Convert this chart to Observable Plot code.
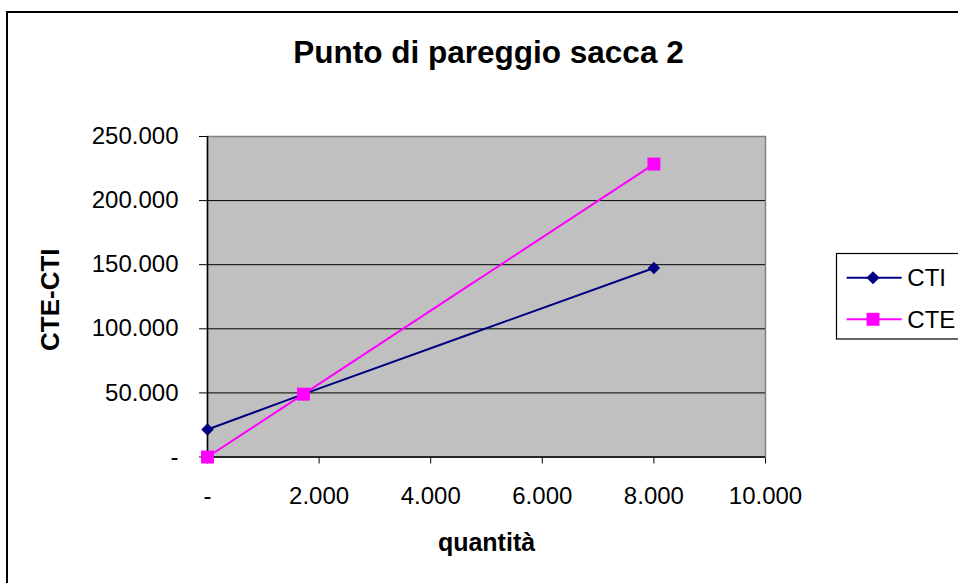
<!DOCTYPE html>
<html>
<head>
<meta charset="utf-8">
<script src="https://cdn.jsdelivr.net/npm/d3@7"></script>
<script src="https://cdn.jsdelivr.net/npm/@observablehq/plot@0.6"></script>
<style>
  html, body { margin: 0; padding: 0; background: #fff; overflow: hidden; }
  body { width: 958px; height: 583px; position: relative; font-family: "Liberation Sans", Arial, sans-serif; }
  #frame { position: absolute; left: 6px; top: 11px; width: 1000px; height: 700px; border: 2px solid #000; box-sizing: border-box; }
  #title { position: absolute; left: 488.5px; top: 36px; transform: translateX(-50%); font-size: 31.5px; line-height: 32px; font-weight: bold; white-space: nowrap; color: #000; }
  #chart { position: absolute; left: 0; top: 0; }
  #legend { position: absolute; left: 0; top: 0; pointer-events: none; }
</style>
</head>
<body>
<div id="frame"></div>
<div id="chart"></div>
<div id="title">Punto di pareggio sacca 2</div>
<svg id="legend" width="958" height="583"></svg>
<script>
// ---- data ----
const titleText = "Punto di pareggio sacca 2";
const xLabel = "quantità";
const yLabel = "CTE-CTI";
const seriesNames = ["CTI", "CTE"];
const seriesColors = ["#000080", "#FF00FF"];
const quantita = [0, 1720, 8000];
const cti = [21500, 49000, 147400];
const cte = [0, 49000, 228500];
const xTicks = [0, 2000, 4000, 6000, 8000, 10000];
const yTicks = [0, 50000, 100000, 150000, 200000, 250000];

const it = d3.formatLocale({decimal: ",", thousands: ".", grouping: [3], currency: ["", "€"]});
const fmtNum = it.format(",");
const fmt = d => d === 0 ? "-" : fmtNum(d);

const ctiData = quantita.map((q, i) => ({q, v: cti[i]}));
const cteData = quantita.map((q, i) => ({q, v: cte[i]}));

const chart = Plot.plot({
  width: 958,
  height: 583,
  marginLeft: 207,
  marginRight: 193,
  marginTop: 136,
  marginBottom: 126.5,
  style: {fontFamily: "'Liberation Sans', Arial, sans-serif", fontSize: "24px", color: "#000", background: "transparent", overflow: "visible"},
  x: {domain: [0, 10000], ticks: xTicks, tickFormat: fmt, tickSize: 7, tickPadding: 23, label: null},
  y: {domain: [0, 250000], ticks: yTicks, tickFormat: fmt, tickSize: 8, tickPadding: 21, label: null},
  marks: [
    Plot.frame({fill: "#C0C0C0", stroke: "#808080", strokeWidth: 1.5}),
    Plot.ruleY(yTicks.filter(d => d > 0 && d < 250000), {stroke: "#000", strokeWidth: 1}),
    Plot.ruleX([0], {stroke: "#000", strokeWidth: 1.5}),
    Plot.ruleY([0], {stroke: "#000", strokeWidth: 1.5}),
    Plot.line(ctiData, {x: "q", y: "v", stroke: seriesColors[0], strokeWidth: 2, curve: "catmull-rom"}),
    Plot.dot(ctiData, {x: "q", y: "v", symbol: "diamond2", r: 5.6, fill: seriesColors[0], stroke: "none"}),
    Plot.line(cteData, {x: "q", y: "v", stroke: seriesColors[1], strokeWidth: 2, curve: "catmull-rom"}),
    Plot.dot(cteData, {x: "q", y: "v", symbol: "square", r: 7.3, fill: seriesColors[1], stroke: "none"}),
    Plot.text([yLabel], {text: d => d, frameAnchor: "left", dx: -157, dy: 3, rotate: -90, textAnchor: "middle", lineAnchor: "middle", fontWeight: "bold", fontSize: 26}),
    Plot.text([xLabel], {text: d => d, frameAnchor: "bottom", dy: 85.5, textAnchor: "middle", lineAnchor: "middle", fontWeight: "bold", fontSize: 25})
  ]
});
document.getElementById("chart").appendChild(chart);

// ---- legend ----
const lg = d3.select("#legend");
lg.append("rect").attr("x", 836.5).attr("y", 253.5).attr("width", 200).attr("height", 85.5)
  .attr("fill", "#fff").attr("stroke", "#000").attr("stroke-width", 1.2);
const rows = [277.7, 319.3];
seriesNames.forEach((name, i) => {
  const y = rows[i];
  lg.append("line").attr("x1", 846.7).attr("x2", 901.7).attr("y1", y).attr("y2", y)
    .attr("stroke", seriesColors[i]).attr("stroke-width", 2);
  const sym = i === 0 ? d3.symbolDiamond2 : d3.symbolSquare;
  const size = i === 0 ? 110 : 169;
  lg.append("path").attr("d", d3.symbol(sym, size)()).attr("transform", `translate(873,${y})`)
    .attr("fill", seriesColors[i]);
  lg.append("text").attr("x", 907.3).attr("y", y).attr("dy", "0.35em")
    .attr("font-family", "'Liberation Sans', Arial, sans-serif").attr("font-size", 24)
    .attr("fill", "#000").text(name);
});
</script>
</body>
</html>
